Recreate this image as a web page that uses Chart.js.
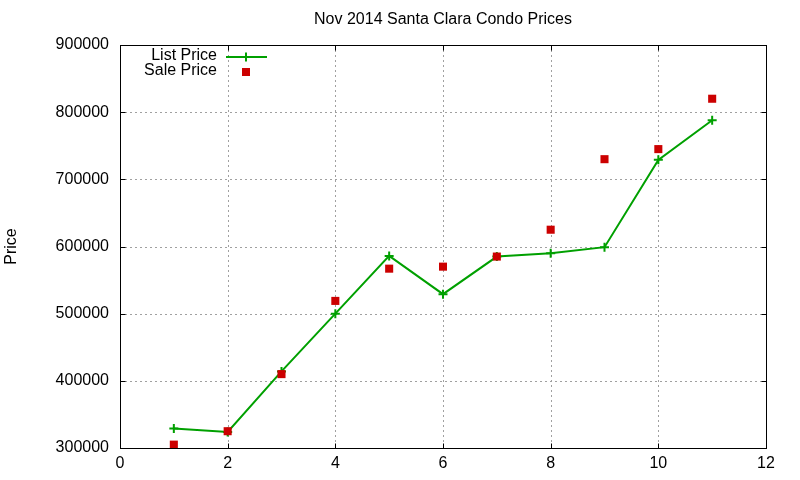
<!DOCTYPE html>
<html lang="en">
<head>
  <meta charset="UTF-8">
  <title>Nov 2014 Santa Clara Condo Prices</title>
  <script src="https://cdn.jsdelivr.net/npm/chart.js"></script>
  <style>
    html, body { margin: 0; padding: 0; background: #fff; }
    #wrap { width: 800px; height: 480px; }
  </style>
</head>
<body>
  <div id="wrap"><canvas id="grafico" width="800" height="480"></canvas></div>
  <script>
    // values
    const xValues = [1, 2, 3, 4, 5, 6, 7, 8, 9, 10, 11];
    const listPrice = [329000, 324000, 414000, 500000, 586000, 529000, 585000, 590000, 599000, 729000, 788000];
    const salePrice = [305000, 325000, 410000, 519000, 567000, 570000, 585000, 625000, 730000, 745000, 820000];
    const xTicks = [0, 2, 4, 6, 8, 10, 12];
    const yTicks = [300000, 400000, 500000, 600000, 700000, 800000, 900000];
    const chartTitle = "Nov 2014 Santa Clara Condo Prices";

    const font = "'Liberation Sans', Arial, sans-serif";
    const green = "#00a000";
    const red = "#cc0000";

    const toPoints = (xs, ys) => xs.map((x, i) => ({ x, y: ys[i] }));

    // gnuplot style: dotted grid under the data, frame + inward ticks on top
    const frame = {
      id: "frame",
      beforeDatasetsDraw(chart) {
        const { ctx, chartArea: a, scales: { x, y } } = chart;
        ctx.save();
        ctx.strokeStyle = "#a0a0a0";
        ctx.lineWidth = 1;
        ctx.setLineDash([2, 3]);
        xTicks.slice(1, -1).forEach(v => {
          const px = Math.round(x.getPixelForValue(v)) + 0.5;
          ctx.beginPath(); ctx.moveTo(px, a.top); ctx.lineTo(px, a.bottom); ctx.stroke();
        });
        yTicks.slice(1, -1).forEach(v => {
          const py = Math.round(y.getPixelForValue(v)) + 0.5;
          ctx.beginPath(); ctx.moveTo(a.left, py); ctx.lineTo(a.right, py); ctx.stroke();
        });
        ctx.restore();
      },
      afterDatasetsDraw(chart) {
        const { ctx, chartArea: a, scales: { x, y } } = chart;
        const L = Math.round(a.left) + 0.5, R = Math.round(a.right) + 0.5;
        const T = Math.round(a.top) + 0.5, B = Math.round(a.bottom) + 0.5;
        const t = 5;
        ctx.save();
        ctx.strokeStyle = "#000";
        ctx.lineWidth = 1;
        ctx.beginPath();
        xTicks.forEach(v => {
          const px = Math.round(x.getPixelForValue(v)) + 0.5;
          ctx.moveTo(px, B); ctx.lineTo(px, B - t);
          ctx.moveTo(px, T); ctx.lineTo(px, T + t);
        });
        yTicks.forEach(v => {
          const py = Math.round(y.getPixelForValue(v)) + 0.5;
          ctx.moveTo(L, py); ctx.lineTo(L + t, py);
          ctx.moveTo(R, py); ctx.lineTo(R - t, py);
        });
        ctx.stroke();
        ctx.strokeRect(L, T, R - L, B - T);
        ctx.restore();
      },
      afterDraw(chart) {
        const { ctx, chartArea: a } = chart;
        ctx.save();
        ctx.font = "16px " + font;
        ctx.fillStyle = "#000";
        // title centred over the plot area, like gnuplot
        ctx.textAlign = "center";
        ctx.textBaseline = "middle";
        ctx.fillText(chartTitle, (a.left + a.right) / 2, 20);
        // legend: text right-aligned, sample on the right
        ctx.textAlign = "right";
        ctx.fillText("List Price", 217, 56);
        ctx.fillText("Sale Price", 217, 71);
        ctx.strokeStyle = green;
        ctx.lineWidth = 2;
        ctx.beginPath();
        ctx.moveTo(226, 57); ctx.lineTo(267, 57);
        ctx.moveTo(246, 52.5); ctx.lineTo(246, 61.5);
        ctx.stroke();
        ctx.fillStyle = red;
        ctx.fillRect(242, 68, 8, 8);
        ctx.restore();
      }
    };

    const ctx = document.getElementById("grafico").getContext("2d");
    const grafico = new Chart(ctx, {
      type: "scatter",
      data: {
        datasets: [
          {
            label: "List Price",
            data: toPoints(xValues, listPrice),
            showLine: true,
            tension: 0,
            borderColor: green,
            backgroundColor: green,
            borderWidth: 2,
            pointStyle: "cross",
            pointRadius: 4.5,
            pointBorderWidth: 2,
            order: 2
          },
          {
            label: "Sale Price",
            data: toPoints(xValues, salePrice),
            showLine: false,
            borderColor: red,
            backgroundColor: red,
            pointStyle: "rect",
            pointRadius: 5.7,
            pointBorderWidth: 0,
            order: 1
          }
        ]
      },
      options: {
        responsive: false,
        animation: false,
        devicePixelRatio: 1,
        layout: { padding: { top: 45, right: 34, left: 0, bottom: 0 } },
        plugins: {
          legend: { display: false },
          tooltip: { enabled: false },
          title: { display: false }
        },
        scales: {
          x: {
            type: "linear",
            min: 0,
            max: 12,
            afterBuildTicks: s => { s.ticks = xTicks.map(v => ({ value: v })); },
            afterFit: s => { s.height = 32; },
            grid: { display: false, drawTicks: false },
            border: { display: false },
            ticks: { color: "#000", font: { family: font, size: 16 }, padding: 6, callback: v => String(v) }
          },
          y: {
            type: "linear",
            min: 300000,
            max: 900000,
            afterBuildTicks: s => { s.ticks = yTicks.map(v => ({ value: v })); },
            afterFit: s => { s.width = 120; },
            grid: { display: false, drawTicks: false },
            border: { display: false },
            title: { display: true, text: "Price", color: "#000", font: { family: font, size: 16 }, padding: { top: 2, bottom: 0 } },
            ticks: { color: "#000", font: { family: font, size: 16 }, padding: 11, callback: v => String(v) }
          }
        }
      },
      plugins: [frame]
    });
  </script>
</body>
</html>
